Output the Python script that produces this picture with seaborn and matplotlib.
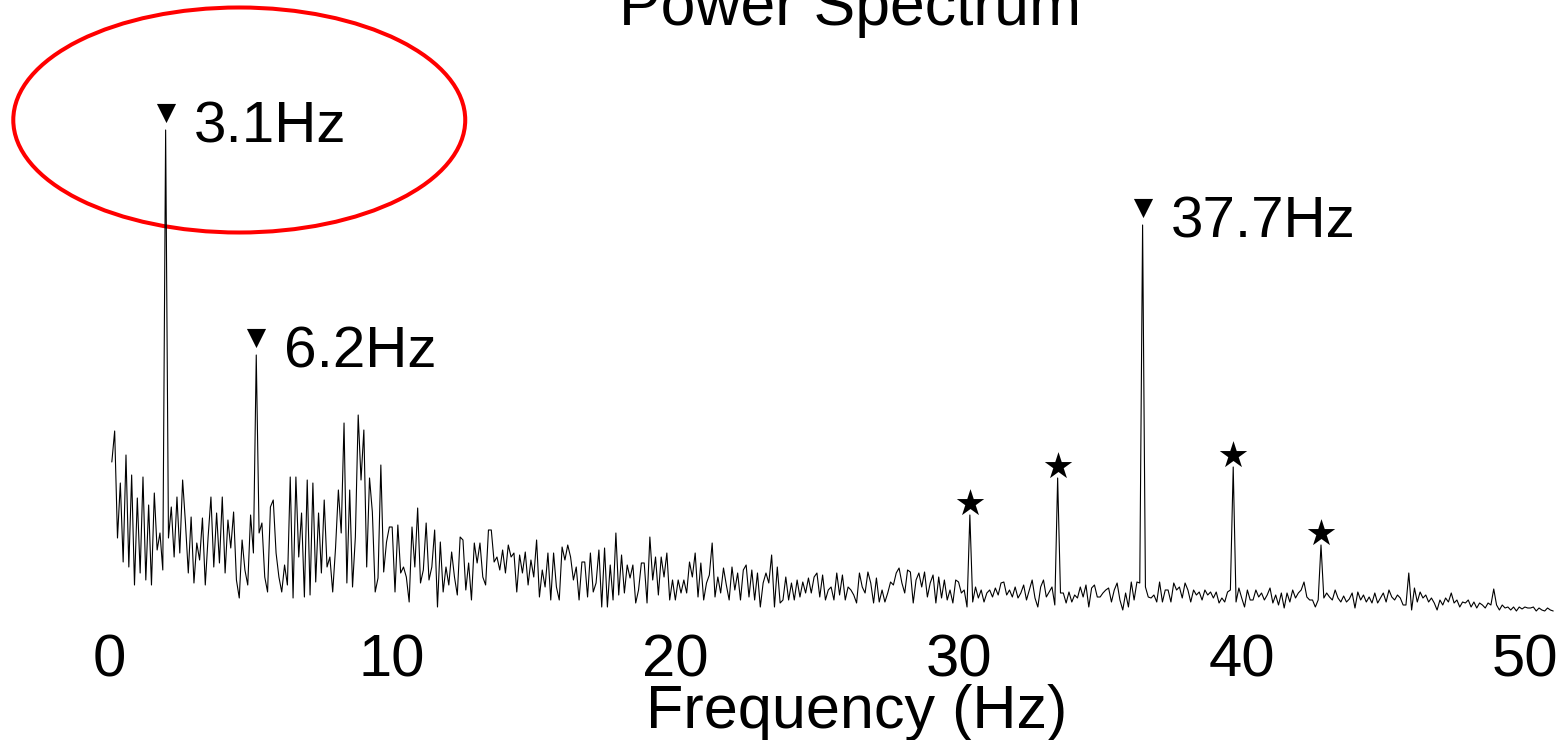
import numpy as np
import pandas as pd
import matplotlib
matplotlib.use("Agg")
import matplotlib.pyplot as plt
from matplotlib.patches import Ellipse
import seaborn as sns

# spectrum, one value per 0.1 Hz bin (arbitrary power units)
power = [
    158, 189, 82, 137, 58, 165, 53, 145, 35, 122, 47, 143, 40, 115, 35, 127, 70, 87, 50, 490,
    82, 113, 63, 123, 67, 140, 97, 47, 103, 37, 77, 60, 102, 35, 83, 123, 53, 107, 57, 123,
    47, 100, 72, 108, 40, 22, 80, 50, 35, 105, 67, 265, 87, 97, 43, 28, 113, 120, 67, 43,
    28, 55, 35, 143, 22, 143, 63, 107, 23, 140, 25, 137, 38, 107, 47, 120, 53, 63, 28, 72,
    130, 87, 197, 37, 130, 33, 83, 205, 140, 190, 53, 142, 108, 28, 42, 155, 48, 78, 93, 93,
    28, 95, 47, 53, 43, 18, 93, 53, 112, 37, 50, 97, 40, 53, 90, 13, 78, 28, 53, 35,
    68, 43, 25, 83, 80, 30, 57, 20, 77, 57, 77, 43, 35, 90, 90, 58, 63, 50, 70, 47,
    75, 63, 67, 28, 65, 47, 68, 35, 60, 43, 80, 23, 50, 33, 67, 20, 67, 33, 20, 73,
    60, 75, 63, 40, 53, 20, 58, 58, 23, 67, 28, 37, 70, 13, 72, 13, 55, 20, 87, 25,
    65, 27, 55, 42, 55, 17, 30, 57, 57, 17, 83, 40, 63, 25, 63, 43, 67, 20, 40, 20,
    40, 27, 40, 27, 58, 43, 67, 23, 57, 20, 37, 45, 77, 23, 43, 27, 52, 35, 20, 53,
    30, 47, 20, 50, 55, 23, 50, 20, 47, 13, 37, 47, 37, 65, 13, 53, 17, 20, 43, 20,
    37, 20, 40, 23, 38, 27, 42, 27, 43, 47, 23, 45, 20, 30, 33, 20, 47, 25, 45, 20, 33,
    30, 25, 17, 47, 33, 27, 48, 37, 17, 42, 18, 30, 18, 27, 38, 35, 47, 52, 37, 27,
    50, 48, 17, 40, 47, 33, 48, 23, 37, 45, 17, 43, 22, 40, 20, 30, 17, 40, 38, 27, 30, 13,
    105,
    18, 33, 22, 30, 18, 27, 30, 23, 32, 25, 37, 38, 25, 30, 23, 33, 22, 27, 35, 20,
    30, 40, 22, 13, 33, 40, 23, 28, 33, 15,
    142,
    27, 27, 17, 28, 18, 25, 22, 33, 23, 35, 13, 32, 35, 23, 23, 27, 30, 32, 18, 30,
    37, 20, 10, 27, 13, 38, 20, 38, 37,
    395,
    33, 23, 22, 25, 18, 38, 18, 30, 30, 18, 37, 30, 33, 22, 37, 30, 18, 30, 25, 28,
    20, 30, 25, 28, 22, 28, 17, 22, 18, 28, 30,
    153,
    18, 32, 22, 13, 30, 20, 20, 30, 23, 27, 20, 25, 32, 17, 25, 15, 27, 12, 27, 18,
    30, 22, 27, 30, 38, 23, 20, 20, 13, 20,
    75,
    22, 27, 23, 20, 30, 22, 18, 24, 18, 21, 27, 12, 28,
    20, 25, 18, 23, 17, 27, 17, 22, 27, 18, 30, 23, 20, 25, 22, 15, 15, 47, 10, 32,
    18, 28, 22, 25, 18, 22, 17, 10, 20, 15, 22, 18, 27, 17, 20, 13, 18, 17, 20, 13,
    18, 12, 17, 15, 12, 17, 15, 31, 15, 10, 15, 12, 13, 10, 13, 9, 13, 11, 13, 12,
    12, 13, 9, 12, 10, 9, 12, 10, 9,
]
bin_width = 0.1

# labelled peaks (bin index) and their text, sideband peaks marked with stars
main_peaks = [20, 52, 365]
main_labels = ["3.1Hz", "6.2Hz", "37.7Hz"]
side_peaks = [304, 335, 397, 428]

freq = np.arange(1, len(power) + 1) * bin_width
df = pd.DataFrame({"freq": freq, "power": power})

sns.set_style("white")
plt.rcParams["font.family"] = ["Liberation Sans", "DejaVu Sans"]
plt.rcParams["text.color"] = "black"
plt.rcParams["xtick.color"] = "black"
plt.rcParams["xtick.labelcolor"] = "black"

fig = plt.figure(figsize=(15.66, 7.40), dpi=100)
ax = fig.add_axes([80 / 1566, 120 / 740, 1480 / 1566, 620 / 740])

sns.lineplot(data=df, x="freq", y="power", color="black", linewidth=0.8, ax=ax)

mp = df.iloc[[p - 1 for p in main_peaks]]
sp = df.iloc[[p - 1 for p in side_peaks]]
ax.scatter(mp["freq"], mp["power"] + 17, marker="v", s=190, color="black", lw=0, clip_on=False)
ax.scatter(sp["freq"], sp["power"] + 12, marker="*", s=430, color="black", lw=0, clip_on=False)
for (f, p), lab in zip(mp[["freq", "power"]].values, main_labels):
    ax.annotate(lab, xy=(f, p + 17), xytext=(20, -21), textcoords="offset points",
                ha="left", va="baseline", fontsize=42, color="black")

# red ring round the first label
f0, p0 = mp.iloc[0]["freq"], mp.iloc[0]["power"]
ax.add_patch(Ellipse((f0 + 2.6, p0 + 10), 15.96, 225, fill=False, edgecolor="red",
                     linewidth=2.9, clip_on=False))

ax.set_xlim(-1.024, 51.24)
ax.set_ylim(0, 620)
ax.set_xticks([0, 10, 20, 30, 40, 50])
ax.set_yticks([])
ax.tick_params(axis="x", length=0, labelsize=43, pad=10)
ax.set_xlabel("")
ax.set_ylabel("")
for s in ax.spines.values():
    s.set_visible(False)

fig.text(850 / 1566, 1 - 25 / 740, "Power Spectrum", ha="center", va="baseline", fontsize=45)
fig.text(857 / 1566, 12 / 740, "Frequency (Hz)", ha="center", va="baseline", fontsize=44)

fig.savefig("out.png", dpi=100)
